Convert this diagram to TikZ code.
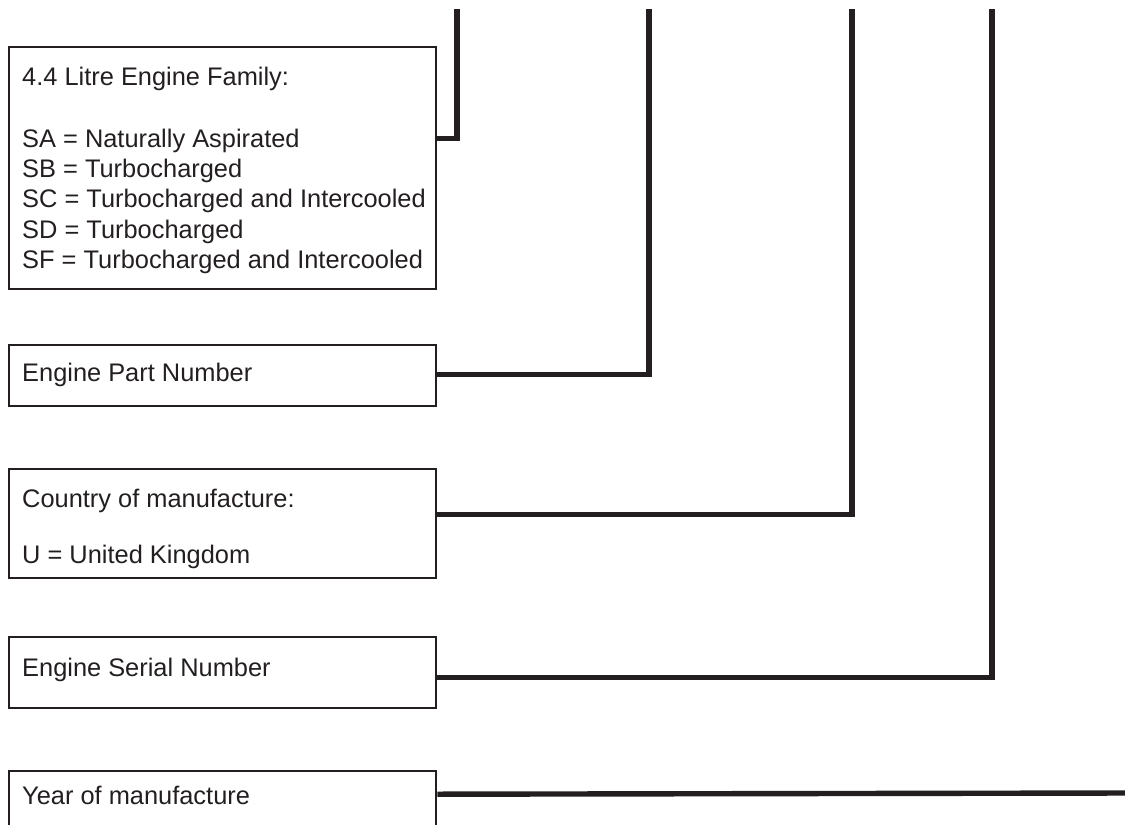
\documentclass[tikz,border=0pt]{standalone}
\usepackage{fontspec}
\setmainfont{Liberation Sans}
\usepackage{tikz}
\definecolor{ink}{HTML}{231F20}
\tikzset{
  box/.style={draw=ink, line width=2.4pt, anchor=north west, inner sep=0pt, minimum width=427pt},
  lbl/.style={anchor=base west, inner sep=0pt, text=ink, font=\fontsize{25.4}{30}\selectfont},
  lead/.style={draw=ink, line width=5.4pt}
}
\begin{document}
\begin{tikzpicture}[x=1pt,y=-1pt]
  \clip (0,0) rectangle (1125,825);
  % boxes
  \node[box, minimum height=242pt] (fam) at (8,46) {};
  \node[box, minimum height=61pt] (part) at (8,344) {};
  \node[box, minimum height=109pt] (country) at (8,468) {};
  \node[box, minimum height=71pt] (serial) at (8,636) {};
  \node[box, minimum height=71pt] (year) at (8,770) {};
  % texts
  \node[lbl] (famhead) at (22,85) {4.4 Litre Engine Family:};
  \node[lbl] (sa) at (22,147) {SA = Naturally Aspirated};
  \node[lbl] (sb) at (22,177) {SB = Turbocharged};
  \node[lbl] (sc) at (22,207) {SC = Turbocharged and Intercooled};
  \node[lbl] (sd) at (22,238) {SD = Turbocharged};
  \node[lbl] (sf) at (22,268) {SF = Turbocharged and Intercooled};
  \node[lbl] (parttext) at (22,381) {Engine Part Number};
  \node[lbl] (countryhead) at (22,507) {Country of manufacture:};
  \node[lbl] (uk) at (22,563) {U = United Kingdom};
  \node[lbl] (serialtext) at (22,676) {Engine Serial Number};
  \node[lbl] (yeartext) at (22,804) {Year of manufacture};
  % lead ends
  \coordinate (top1) at (457,9);
  \coordinate (top2) at (649,9);
  \coordinate (top3) at (852,9);
  \coordinate (top4) at (992,9);
  \coordinate (yearend) at (1130,793);
  % leads
  \draw[lead] ([yshift=30pt]fam.east) -| (top1);
  \draw[lead] ([yshift=1.5pt]part.east) -| (top2);
  \draw[lead] ([yshift=9.5pt]country.east) -| (top3);
  \draw[lead] ([yshift=-4.5pt]serial.east) -| (top4);
  \draw[lead] ([yshift=12.5pt]year.east) -- (yearend);
\end{tikzpicture}
\end{document}
